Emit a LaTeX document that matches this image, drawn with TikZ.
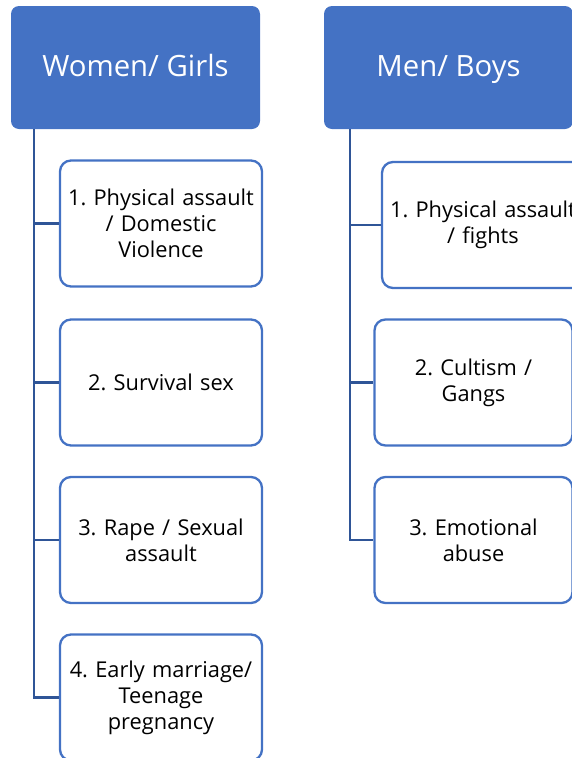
\documentclass[tikz,border=0pt]{standalone}
\usepackage{fontspec}
\setmainfont{Open Sans}
\frenchspacing
\definecolor{headblue}{RGB}{68, 114, 196}
\definecolor{linkblue}{RGB}{47, 85, 151}
\usepackage{tikz}
\usetikzlibrary{positioning, calc}

\begin{document}
\begin{tikzpicture}[x=1pt, y=-1pt,
    header/.style={fill=headblue, rounded corners=8pt, text=white, minimum width=249pt, minimum height=123pt, inner sep=0pt, text height=21pt, text depth=4pt, font=\fontsize{29.3}{34}\selectfont},
    item/.style={draw=headblue, line width=2.3pt, fill=white, rounded corners=11pt, minimum width=202pt, minimum height=126pt, text width=198pt, align=center, inner sep=0pt, font=\fontsize{21.8}{26}\selectfont},
    link/.style={draw=linkblue, line width=2.5pt}]
  \useasboundingbox (0,0) rectangle (572,758);

  % Headers
  \node[header] (women) at (135.5, 67.5) {Women/ Girls};
  \node[header] (men) at (448.5, 67.5) {Men/ Boys};

  % Women / girls items
  \node[item] (w1) at (161, 223.5) {1. Physical assault\\/ Domestic\\Violence};
  \node[item] (w2) at (161, 382.5) {2. Survival sex};
  \node[item] (w3) at (161, 540) {3. Rape / Sexual\\assault};
  \node[item] (w4) at (161, 697.5) {4. Early marriage/\\Teenage\\pregnancy};

  % Men / boys items
  \node[item] (m1) at (483, 225) {1. Physical assault\\/ fights};
  \node[item, minimum width=197pt] (m2) at (473.5, 382.5) {2. Cultism /\\Gangs};
  \node[item, minimum width=197pt] (m3) at (473.5, 540) {3. Emotional\\abuse};

  % Trunks
  \coordinate (wt) at (34, 129);
  \coordinate (mt) at (350, 129);
  \foreach \i in {1,...,4}
    \draw[link] (wt) |- (w\i.west);
  \foreach \i in {1,...,3}
    \draw[link] (mt) |- (m\i.west);
\end{tikzpicture}
\end{document}
